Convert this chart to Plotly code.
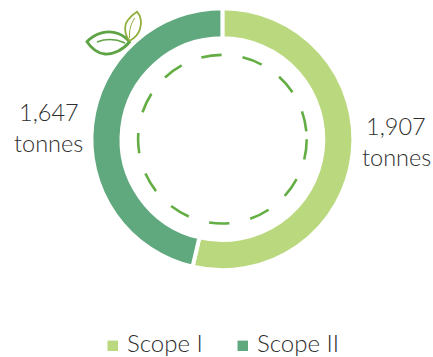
import plotly.graph_objects as go

# Annual emissions by scope, in tonnes
scopes = ["Scope I", "Scope II"]
emissions = [1907, 1647]
unit = "tonnes"
ring_colors = ["#BAD97E", "#60A97E"]
text_color = "#2E2E2E"
font_family = "Lato"
W, H = 433, 357

fig = go.Figure()

# Donut, clockwise from twelve o'clock
cx, cy, r_out = 222.4, 139.2, 131.0
fig.add_trace(go.Pie(
    labels=scopes,
    values=emissions,
    hole=0.77,
    sort=False,
    direction="clockwise",
    rotation=0,
    textinfo="none",
    hoverinfo="label+value",
    showlegend=False,
    marker=dict(colors=ring_colors, line=dict(color="white", width=4)),
    domain=dict(x=[(cx - r_out) / W, (cx + r_out) / W],
                y=[1 - (cy + r_out) / H, 1 - (cy - r_out) / H]),
))

shapes = [
    # Dashed inner ring
    dict(type="circle", xref="x", yref="y", x0=138.1, x1=306.7, y0=54.9, y1=223.5,
         line=dict(color="#63AE43", width=2.6, dash="20.5px,21.2px")),
    # Large leaf outline and vein
    dict(type="path", xref="x", yref="y", layer="above",
         path="M87,41.7 C95,33 108,29.5 118,33.5 C123,35.5 127,38.5 129.5,42 "
              "C123,50 113,54.5 105,54 C98,53.5 91,48 87,41.7 Z",
         line=dict(color="#5EA345", width=2.8)),
    dict(type="path", xref="x", yref="y", layer="above",
         path="M97,42 C105,39 115,38.5 125,43",
         line=dict(color="#5EA345", width=1.5)),
    # Small leaf outline and vein
    dict(type="path", xref="x", yref="y", layer="above",
         path="M129.5,41 C124,34 124,25 128,20 C131,16 134,13.5 137,11.7 "
              "C141,16 142,23 140,29 C138.5,34 134,38.5 129.5,41 Z",
         line=dict(color="#8FAE3C", width=1.8)),
    dict(type="path", xref="x", yref="y", layer="above",
         path="M129.5,38 C129,30 131,23 135,18",
         line=dict(color="#8FAE3C", width=1)),
]

# Value labels on either side of the ring
label_font = dict(family=font_family, size=23.5, color=text_color, weight=300)
label_positions = [(396, 126, 157), (48.5, 112, 143)]
annotations = []
for value, (lx, value_y, unit_y) in zip(emissions, label_positions):
    for text, ly in ((f"{value:,}", value_y), (unit, unit_y)):
        annotations.append(dict(x=lx, y=ly, xref="x", yref="y", text=text,
                                showarrow=False, font=label_font,
                                xanchor="center", yanchor="middle"))

# Key beneath the ring
legend_font = dict(family=font_family, size=24, color=text_color, weight=300)
legend_swatches = [107.5, 237.5]
for name, color, sx in zip(scopes, ring_colors, legend_swatches):
    shapes.append(dict(type="rect", xref="x", yref="y", x0=sx, x1=sx + 10.5,
                       y0=340.6, y1=351, fillcolor=color, line=dict(width=0)))
    annotations.append(dict(x=sx + 18.8, y=342.3, xref="x", yref="y", text=name,
                            showarrow=False, font=legend_font,
                            xanchor="left", yanchor="middle", xshift=-1))

fig.update_layout(
    width=W,
    height=H,
    margin=dict(l=0, r=0, t=0, b=0),
    paper_bgcolor="white",
    plot_bgcolor="white",
    xaxis=dict(range=[0, W], visible=False, domain=[0, 1], fixedrange=True),
    yaxis=dict(range=[H, 0], visible=False, domain=[0, 1], fixedrange=True),
    shapes=shapes,
    annotations=annotations,
    showlegend=False,
)

fig.write_html("out.html", config=dict(displayModeBar=False))
